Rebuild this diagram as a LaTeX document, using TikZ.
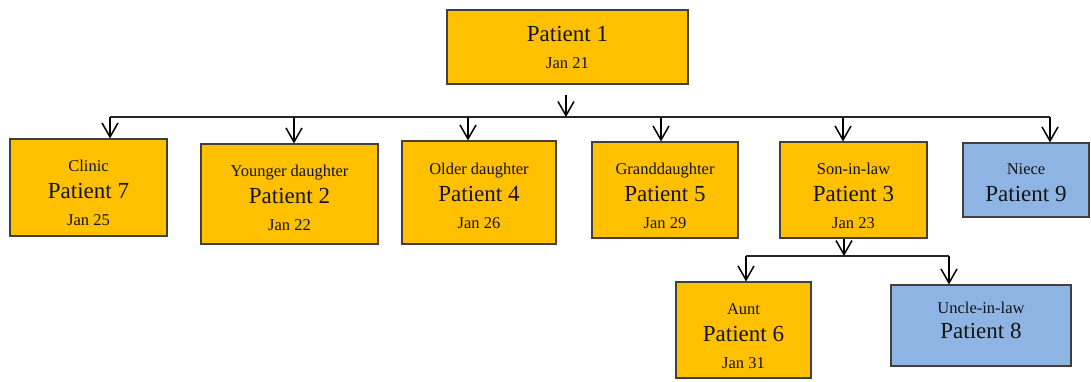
\documentclass[tikz,border=0pt]{standalone}
\usepackage{fontspec}
\setmainfont{Liberation Serif}
\usetikzlibrary{arrows.meta}
\definecolor{boxorange}{HTML}{FFC000}
\definecolor{boxblue}{HTML}{8EB4E3}
\definecolor{boxline}{HTML}{404040}
\definecolor{txt}{HTML}{141414}
\newcommand{\smtxt}[1]{{\fontsize{16.5}{20}\selectfont #1}}
\newcommand{\bgtxt}[1]{{\fontsize{23}{27}\selectfont #1}}
\newcommand{\tstrut}[1]{\rule{0pt}{#1pt}}
\newcommand{\dstrut}[1]{\rule[-#1pt]{0pt}{#1pt}}
\tikzset{
  pbox/.style={draw=boxline, line width=1.1pt, inner sep=0pt, align=center,
    text=txt, font=\fontsize{16.5}{27}\selectfont},
  orangebox/.style={pbox, fill=boxorange},
  bluebox/.style={pbox, fill=boxblue},
  arr/.style={line width=1.5pt, -{Straight Barb[length=14pt,width=16pt,line width=1.5pt]}},
  bus/.style={line width=1.1pt, draw=black!85}
}
\begin{document}
\begin{tikzpicture}[x=1pt,y=-1pt]
\useasboundingbox (0,0) rectangle (1091,381);
% nodes (positions in pixel units)
\node[orangebox, minimum width=241pt, minimum height=74pt] (p1) at (567.5,47) {\bgtxt{Patient 1}\\\smtxt{Jan 21}};
\node[orangebox, minimum width=157pt, minimum height=97pt] (p7) at (88.5,187.5) {\smtxt{\tstrut{21.3}Clinic}\\\bgtxt{Patient 7}\\\smtxt{Jan 25}};
\node[orangebox, minimum width=177pt, minimum height=100pt] (p2) at (289.5,194) {\smtxt{\tstrut{18.3}Younger daughter}\\\bgtxt{Patient 2}\\\smtxt{Jan 22}};
\node[orangebox, minimum width=154pt, minimum height=103pt] (p4) at (479,192.5) {\smtxt{\tstrut{18.3}Older daughter}\\\bgtxt{Patient 4}\\\smtxt{Jan 26}};
\node[orangebox, minimum width=146pt, minimum height=96pt] (p5) at (665,190) {\smtxt{\tstrut{23}Granddaughter}\\\bgtxt{Patient 5}\\\smtxt{Jan 29}};
\node[orangebox, minimum width=147pt, minimum height=96pt] (p3) at (853.5,190) {\smtxt{\tstrut{23}Son-in-law}\\\bgtxt{Patient 3}\\\smtxt{Jan 23}};
\node[bluebox, minimum width=126pt, minimum height=74pt] (p9) at (1026,180) {\smtxt{\tstrut{17}Niece}\\\bgtxt{Patient 9}};
\node[orangebox, minimum width=135pt, minimum height=96pt] (p6) at (743.5,330) {\smtxt{\tstrut{23}Aunt}\\\bgtxt{Patient 6}\\\smtxt{Jan 31}};
\node[bluebox, minimum width=180pt, minimum height=81pt, font=\fontsize{16.5}{25}\selectfont] (p8) at (981,325.5) {\smtxt{Uncle-in-law}\\\bgtxt{Patient 8\dstrut{11}}};
% bus coordinates
\coordinate (t1) at (566,95);
\coordinate (c1) at (566,117);
\coordinate (bl) at (110,117);
\coordinate (br) at (1050,117);
\coordinate (b7) at (110,117);
\coordinate (b2) at (294,117);
\coordinate (b4) at (468,117);
\coordinate (b5) at (661,117);
\coordinate (b3) at (843,117);
\coordinate (b9) at (1050,117);
\coordinate (c3) at (844,256);
\coordinate (sl) at (746,256);
\coordinate (sr) at (949,256);
% connectors
\draw[bus] (bl) -- (br);
\draw[arr] (t1) -- (c1);
\draw[arr] (b7) -- (b7 |- p7.north);
\draw[arr] (b2) -- (b2 |- p2.north);
\draw[arr] (b4) -- (b4 |- p4.north);
\draw[arr] (b5) -- (b5 |- p5.north);
\draw[arr] (b3) -- (b3 |- p3.north);
\draw[arr] (b9) -- (b9 |- p9.north);
\draw[bus] (sl) -- (sr);
\draw[arr] (c3 |- p3.south) -- (c3);
\draw[arr] (sl) -- (sl |- p6.north);
\draw[arr] (sr) -- (sr |- p8.north);
\end{tikzpicture}
\end{document}
